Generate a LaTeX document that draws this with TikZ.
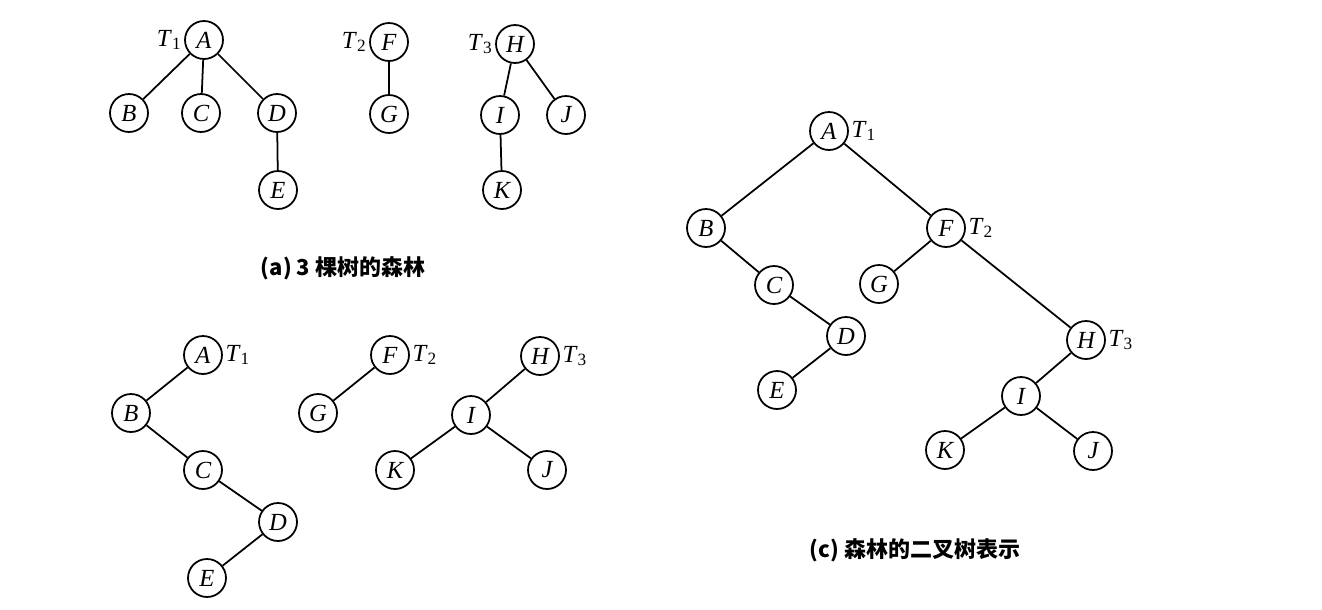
\documentclass[tikz,border=0pt]{standalone}
\usepackage{fontspec}
\setmainfont{Liberation Serif}
\newfontfamily\cjk{Noto Sans CJK SC}
\usetikzlibrary{positioning}

\newcommand\treetag[1]{\textit{T}\textsubscript{#1}}

\begin{document}
\begin{tikzpicture}[x = 0.02 cm, y = -0.02 cm, line width = 1pt,
	font = \fontsize{14}{16}\selectfont,
	vertex/.style = {circle, draw, minimum size = 0.76 cm, inner sep = 0pt, font = \fontsize{14}{16}\selectfont\itshape},
	tag/.style = {inner sep = 1pt},
	caption/.style = {font = \cjk\bfseries\fontsize{12.5}{15}\selectfont}]

\useasboundingbox (0, 0) rectangle (1322, 609);

% (a) Forest of three trees

\node [vertex] (a-A) at (204, 40) {A};
\node [vertex] (a-B) at (129, 113) {B};
\node [vertex] (a-C) at (201, 113) {C};
\node [vertex] (a-D) at (277, 113) {D};
\node [vertex] (a-E) at (278, 190) {E};

\node [vertex] (a-F) at (389, 42) {F};
\node [vertex] (a-G) at (389, 114) {G};

\node [vertex] (a-H) at (515, 44) {H};
\node [vertex] (a-I) at (500, 115) {I};
\node [vertex] (a-J) at (566, 115) {J};
\node [vertex] (a-K) at (502, 190) {K};

\node [tag, left = 0pt of a-A] {\treetag{1}};
\node [tag, left = 0pt of a-F] {\treetag{2}};
\node [tag, left = 0pt of a-H] {\treetag{3}};

\draw (a-A) -- (a-B);
\draw (a-A) -- (a-C);
\draw (a-A) -- (a-D);
\draw (a-D) -- (a-E);
\draw (a-F) -- (a-G);
\draw (a-H) -- (a-I);
\draw (a-H) -- (a-J);
\draw (a-I) -- (a-K);

\node [caption] (a-cap) at (343, 268) {(a) 3 棵树的森林};

% (b) Each tree as a binary tree

\node [vertex] (b-A) at (203, 355) {A};
\node [vertex] (b-B) at (131, 413) {B};
\node [vertex] (b-C) at (203, 470) {C};
\node [vertex] (b-D) at (278, 522) {D};
\node [vertex] (b-E) at (207, 578) {E};

\node [vertex] (b-F) at (390, 355) {F};
\node [vertex] (b-G) at (318, 413) {G};

\node [vertex] (b-H) at (540, 356) {H};
\node [vertex] (b-I) at (471, 415) {I};
\node [vertex] (b-K) at (395, 470) {K};
\node [vertex] (b-J) at (547, 470) {J};

\node [tag, right = 0pt of b-A] {\treetag{1}};
\node [tag, right = 0pt of b-F] {\treetag{2}};
\node [tag, right = 0pt of b-H] {\treetag{3}};

\draw (b-A) -- (b-B);
\draw (b-B) -- (b-C);
\draw (b-C) -- (b-D);
\draw (b-D) -- (b-E);
\draw (b-F) -- (b-G);
\draw (b-H) -- (b-I);
\draw (b-I) -- (b-K);
\draw (b-I) -- (b-J);

% (c) Forest as one binary tree

\node [vertex] (c-A) at (829, 131) {A};
\node [vertex] (c-B) at (706, 228) {B};
\node [vertex] (c-C) at (774, 285) {C};
\node [vertex] (c-D) at (846, 336) {D};
\node [vertex] (c-E) at (777, 390) {E};
\node [vertex] (c-F) at (946, 228) {F};
\node [vertex] (c-G) at (879, 284) {G};
\node [vertex] (c-H) at (1086, 340) {H};
\node [vertex] (c-I) at (1021, 396) {I};
\node [vertex] (c-K) at (945, 450) {K};
\node [vertex] (c-J) at (1093, 451) {J};

\node [tag, right = 0pt of c-A] {\treetag{1}};
\node [tag, right = 0pt of c-F] {\treetag{2}};
\node [tag, right = 0pt of c-H] {\treetag{3}};

\draw (c-A) -- (c-B);
\draw (c-B) -- (c-C);
\draw (c-C) -- (c-D);
\draw (c-D) -- (c-E);
\draw (c-A) -- (c-F);
\draw (c-F) -- (c-G);
\draw (c-F) -- (c-H);
\draw (c-H) -- (c-I);
\draw (c-I) -- (c-K);
\draw (c-I) -- (c-J);

\node [caption] (c-cap) at (915, 550) {(c) 森林的二叉树表示};

\end{tikzpicture}
\end{document}
